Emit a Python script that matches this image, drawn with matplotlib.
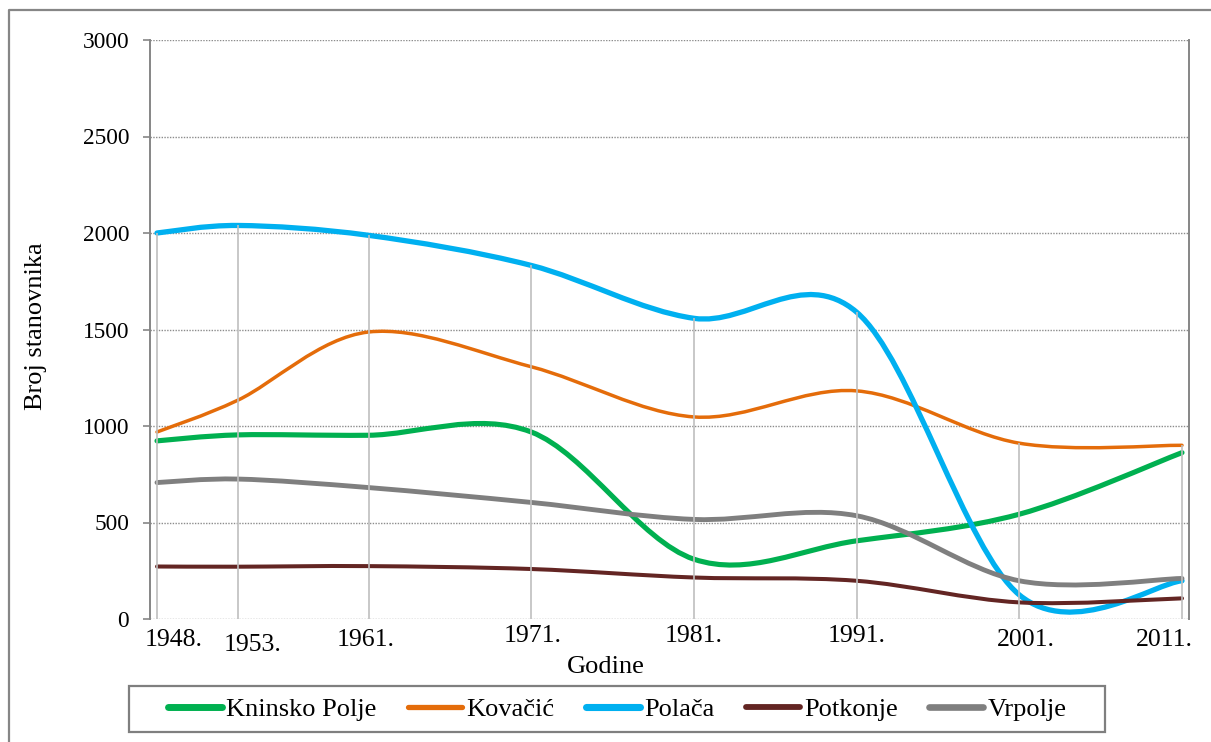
import matplotlib
matplotlib.use("Agg")
import matplotlib.pyplot as plt
from matplotlib.path import Path
from matplotlib.patches import PathPatch, Rectangle
from matplotlib.lines import Line2D

plt.rcParams['font.family'] = ['Liberation Serif', 'DejaVu Serif']

years = [1948, 1953, 1961, 1971, 1981, 1991, 2001, 2011]
year_labels = ['1948.', '1953.', '1961.', '1971.', '1981.', '1991.', '2001.', '2011.']

kninsko_polje = [923, 954, 952, 969, 310, 405, 543, 862]
kovacic = [969, 1135, 1487, 1307, 1047, 1182, 911, 900]
polaca = [2000, 2039, 1988, 1832, 1558, 1590, 125, 198]
potkonje = [272, 271, 274, 259, 215, 198, 86, 107]
vrpolje = [707, 725, 681, 604, 516, 535, 198, 210]

names = ['Kninsko Polje', 'Kovačić', 'Polača', 'Potkonje', 'Vrpolje']
series = [kninsko_polje, kovacic, polaca, potkonje, vrpolje]
colors = ['#00B050', '#E46C0A', '#00B0F0', '#632523', '#7F7F7F']
widths = [3.7, 2.5, 3.8, 2.9, 3.5]

# label nudges (pixels) as placed in the original
label_dx = [17, 14, -3, 1, 0, 0, 7, -18]
label_dy = [-21, -26, -21, -17, -17, -17, -21, -21]


def smooth_path(xs, ys):
    # excel-style smoothed line: cubic bezier through every point
    pts = list(zip(xs, ys))
    verts = [pts[0]]
    codes = [Path.MOVETO]
    n = len(pts)
    for i in range(n - 1):
        p0 = pts[i - 1] if i > 0 else pts[i]
        p1 = pts[i]
        p2 = pts[i + 1]
        p3 = pts[i + 2] if i + 2 < n else pts[i + 1]
        c1 = (p1[0] + (p2[0] - p0[0]) / 6, p1[1] + (p2[1] - p0[1]) / 6)
        c2 = (p2[0] - (p3[0] - p1[0]) / 6, p2[1] - (p3[1] - p1[1]) / 6)
        verts += [c1, c2, p2]
        codes += [Path.CURVE4] * 3
    return Path(verts, codes)


fig = plt.figure(figsize=(12.11, 7.42), dpi=100)
W, H = 1211, 742
ax = fig.add_axes([150 / W, 1 - 619 / H, (1189 - 150) / W, (619 - 40) / H])

ax.set_xlim(1947.57, 2011.43)
ax.set_ylim(0, 3000)

ax.set_yticks(range(0, 3001, 500))
ax.yaxis.grid(True, color='#8C8C8C', linestyle=(0, (1, 1.0)), linewidth=1.0)
ax.set_axisbelow(True)
ax.tick_params(axis='y', direction='out', length=5, width=1.2, color='#868686',
               labelsize=16.8, pad=10)
ax.set_xticks([])

for side in ['top', 'bottom']:
    ax.spines[side].set_visible(False)
for side in ['left', 'right']:
    ax.spines[side].set_color('#868686')
    ax.spines[side].set_linewidth(1.4)

handles = []
for name, vals, c, lw in zip(names, series, colors, widths):
    patch = PathPatch(smooth_path(years, vals), fill=False, edgecolor=c, linewidth=lw,
                      capstyle='round', joinstyle='round', zorder=3)
    ax.add_patch(patch)
    handles.append(Line2D([], [], color=c, linewidth=lw + 1.3, solid_capstyle='round'))

# drop lines from the highest series down to the axis
tops = [max(v) for v in zip(*series)]
ax.vlines(years, 0, tops, color='#BFBFBF', linewidth=1.2, zorder=4)

for yr, lab, dx, dy in zip(years, year_labels, label_dx, label_dy):
    ax.annotate(lab, xy=(yr, 0), xycoords=('data', 'axes fraction'),
                xytext=(dx, dy), textcoords='offset pixels',
                ha='center', va='center', fontsize=18.5, annotation_clip=False)

fig.text(606 / W, 1 - 667 / H, 'Godine', ha='center', va='center', fontsize=19)
fig.text(36 / W, 1 - 326 / H, 'Broj stanovnika', ha='center', va='center',
         rotation=90, fontsize=19)

leg = fig.legend(handles, names, loc='center', ncol=5,
                 bbox_to_anchor=(617 / W, 1 - 709 / H), fontsize=19,
                 handlelength=2.05, handletextpad=0.15, columnspacing=1.2,
                 frameon=False, borderpad=0.2)

# legend box
fig.add_artist(Rectangle((129 / W, 1 - 732 / H), (1105 - 129) / W, 46 / H,
                         transform=fig.transFigure, fill=False,
                         edgecolor='#7F7F7F', linewidth=1.6))

# outer chart border
fig.add_artist(Line2D([9 / W, 9 / W, 1.0], [0.0, 1 - 10 / H, 1 - 10 / H],
                      transform=fig.transFigure, color='#868686', linewidth=1.6))

fig.savefig('out.png', dpi=100)
